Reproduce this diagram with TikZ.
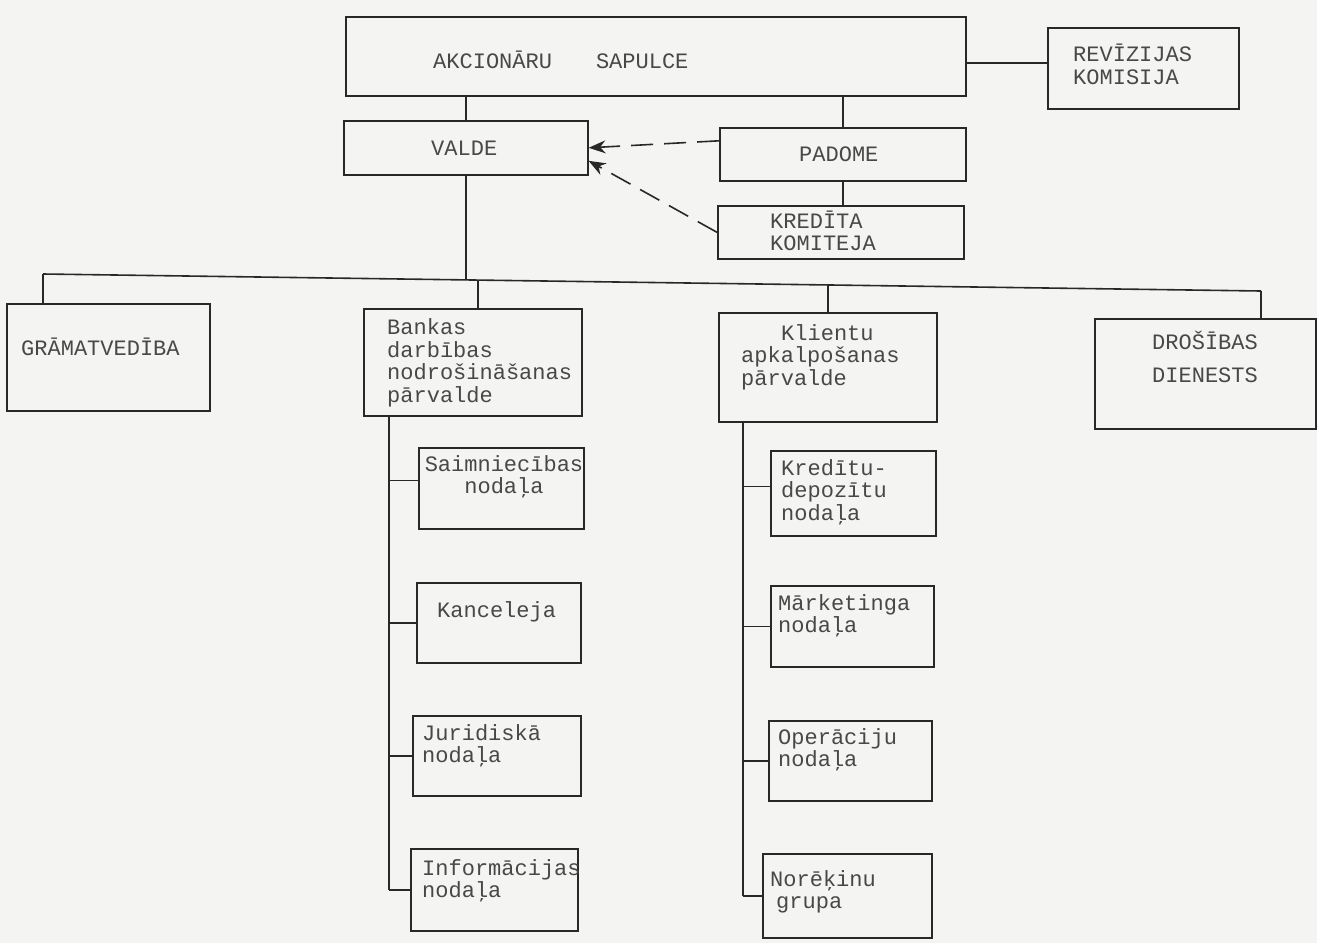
\documentclass[tikz,border=0pt]{standalone}
\usepackage{fontspec}
\setmainfont{Liberation Mono}
\usetikzlibrary{arrows.meta,calc}
\definecolor{paper}{RGB}{244,244,242}
\definecolor{ink}{RGB}{40,40,40}
\definecolor{typeink}{RGB}{72,72,72}
\tikzset{
  bx/.style={draw=ink, line width=1.6pt, inner sep=0pt, anchor=north west},
  tx/.style={text=typeink, font=\fontsize{22}{22.5}\selectfont, inner sep=0pt, align=left, anchor=west},
  ln/.style={draw=ink, line width=1.6pt},
  dsh/.style={draw=ink, line width=1.6pt, dash pattern=on 22pt off 11pt, -{Stealth[length=17pt,width=13pt]}},
}
\newcommand\mkbox[5]{\node[bx, minimum width={(#4-#2)*1pt}, minimum height={(#5-#3)*1pt}] (#1) at (#2,#3) {};}
\begin{document}
\begin{tikzpicture}[x=1pt,y=-1pt]
\fill[paper] (0,0) rectangle (1317,943);
\useasboundingbox (0,0) rectangle (1317,943);

% boxes
\mkbox{as}{345}{16}{965}{95}
\mkbox{rev}{1047}{27}{1238}{108}
\mkbox{valde}{343}{120}{587}{174}
\mkbox{padome}{719}{127}{965}{180}
\mkbox{kredita}{717}{205}{963}{258}
\mkbox{gram}{6}{303}{209}{410}
\mkbox{bankas}{363}{308}{581}{415}
\mkbox{klientu}{718}{312}{936}{421}
\mkbox{dros}{1094}{318}{1315}{428}
\mkbox{saim}{418}{447}{583}{528}
\mkbox{kanc}{416}{582}{580}{662}
\mkbox{jur}{412}{715}{580}{795}
\mkbox{info}{410}{848}{577}{930}
\mkbox{kred}{770}{450}{935}{535}
\mkbox{mark}{770}{585}{933}{666}
\mkbox{oper}{768}{720}{931}{800}
\mkbox{nor}{762}{853}{931}{937}

% texts
\node[tx] (t-as) at (433,60) {AKCIONĀRU\hspace{44pt}SAPULCE};
\node[tx] (t-rev) at (1073,64.5) {REVĪZIJAS\\KOMISIJA};
\node[tx] (t-valde) at (431,148) {VALDE};
\node[tx] (t-padome) at (799,154) {PADOME};
\node[tx] (t-kredita) at (770,231) {KREDĪTA\\KOMITEJA};
\node[tx] (t-gram) at (21,347) {GRĀMATVEDĪBA};
\node[tx] (t-bankas) at (387,363) {Bankas\\darbības\\nodrošināšanas\\pārvalde};
\node[tx] (t-klientu) at (741,357) {\hspace*{40pt}Klientu\\apkalpošanas\\pārvalde};
\node[tx, align=center, anchor=center] (t-dros) at (1205,357) {DROŠĪBAS\\[10pt]DIENESTS};
\node[tx, align=center, anchor=center] (t-saim) at (504,477) {Saimniecības\\nodaļa};
\node[tx] (t-kanc) at (437,612) {Kanceleja};
\node[tx] (t-jur) at (422,746) {Juridiskā\\nodaļa};
\node[tx] (t-info) at (422,881) {Informācijas\\nodaļa};
\node[tx] (t-kred) at (781,492) {Kredītu-\\depozītu\\nodaļa};
\node[tx] (t-mark) at (778,616) {Mārketinga\\nodaļa};
\node[tx] (t-oper) at (778,750) {Operāciju\\nodaļa};
\node[tx] (t-nor) at (770,892) {Norēķinu\\\hspace*{6pt}grupa};

% top connectors
\coordinate (ry) at (0,63);
\draw[ln] (ry -| as.east) -- (ry -| rev.west);
\draw[ln] (valde.north) -- (valde.north |- as.south);
\draw[ln] (padome.north) -- (padome.north |- as.south);
\draw[ln] (padome.south) -- (padome.south |- kredita.north);
\draw[dsh] ([yshift=13.5pt]padome.west) -- (valde.east);
\draw[dsh] (kredita.west) -- ([yshift=-13pt]valde.east);

% bus
\coordinate (bL) at (43,274);
\coordinate (bR) at (1261,291);
\coordinate (jV) at (465,280);
\coordinate (jB) at (478,280.1);
\coordinate (jK) at (828,285);
\draw[ln] (bL) -- (bR);
\draw[ln] (valde.south) -- (valde.south |- jV);
\draw[ln] (bL) -- (bL |- gram.north);
\draw[ln] (jB) -- (jB |- bankas.north);
\draw[ln] (jK) -- (jK |- klientu.north);
\draw[ln] (bR) -- (bR |- dros.north);

% left column
\coordinate (lv) at (389,0);
\draw[ln] (bankas.south -| lv) -- (info.west -| lv);
\draw[ln] ([yshift=8pt]saim.west -| lv) -- ([yshift=8pt]saim.west);
\draw[ln] (kanc.west -| lv) -- (kanc.west);
\draw[ln] (jur.west -| lv) -- (jur.west);
\draw[ln] (info.west -| lv) -- (info.west);

% right column
\coordinate (rv) at (743,0);
\draw[ln] (klientu.south -| rv) -- (nor.west -| rv);
\draw[ln] ([yshift=7pt]kred.west -| rv) -- ([yshift=7pt]kred.west);
\draw[ln] (mark.west -| rv) -- (mark.west);
\draw[ln] (oper.west -| rv) -- (oper.west);
\draw[ln] (nor.west -| rv) -- (nor.west);
\end{tikzpicture}
\end{document}
